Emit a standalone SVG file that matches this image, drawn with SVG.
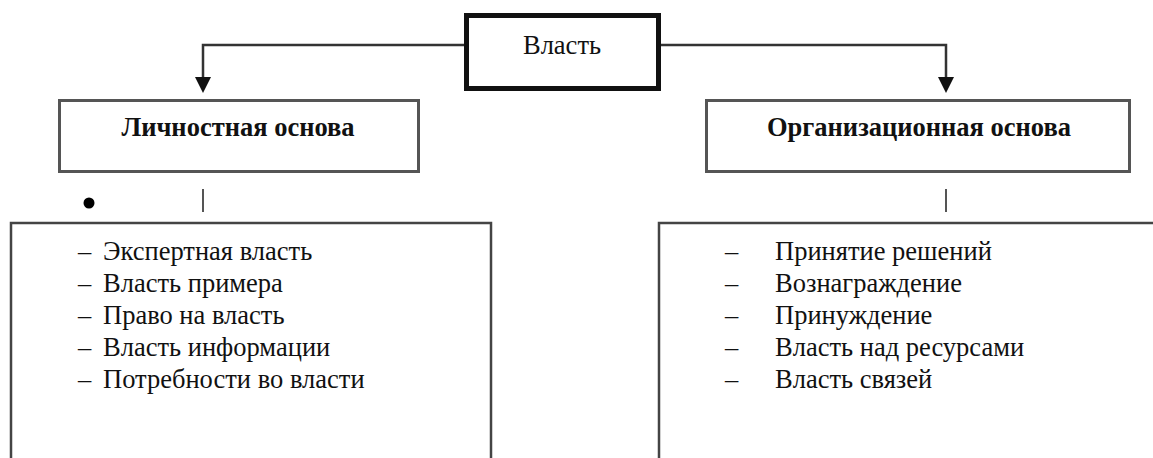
<svg xmlns="http://www.w3.org/2000/svg" width="1153" height="458" viewBox="0 0 1153 458">
<defs>
<style>
text{font-family:"Liberation Serif","Times New Roman",serif;fill:#111;font-size:26.5px}
.b{font-weight:bold}
.box{fill:#fff;stroke:#555;stroke-width:3}
.list{fill:#fff;stroke:#444;stroke-width:2.5}
.conn{fill:none;stroke:#333;stroke-width:2.5}
.head{fill:#111}
.tick{stroke:#555;stroke-width:2}
</style>
</defs>
<rect width="1153" height="458" fill="#fff"/>
<g id="connectors">
<path class="conn" d="M466,45 H203 V78"/>
<path class="head" d="M195,77 L211,77 L203,93 Z"/>
<path class="conn" d="M661,45 H946 V78"/>
<path class="head" d="M938,77 L954,77 L946,93 Z"/>
<line class="tick" x1="203" y1="189" x2="203" y2="212"/>
<line class="tick" x1="946" y1="189" x2="946" y2="212"/>
</g>
<g id="node-vlast">
<rect x="466.5" y="15.5" width="192" height="73" fill="#fff" stroke="#111" stroke-width="5"/>
<text x="562" y="54" text-anchor="middle">Власть</text>
</g>
<g id="node-lichn">
<rect class="box" x="59.5" y="100.5" width="359" height="71"/>
<text class="b" x="238" y="136" text-anchor="middle">Личностная основа</text>
</g>
<g id="node-org">
<rect class="box" x="706.5" y="100.5" width="423" height="71"/>
<text class="b" x="919" y="136" text-anchor="middle">Организационная основа</text>
</g>
<g id="bullet">
<circle cx="89" cy="203" r="5.5" fill="#000"/>
</g>
<g id="node-lichn-list">
<rect class="list" x="11" y="223" width="480" height="260"/>
<text x="78" y="260">–</text><text x="103" y="260">Экспертная власть</text>
<text x="78" y="292">–</text><text x="103" y="292">Власть примера</text>
<text x="78" y="324">–</text><text x="103" y="324">Право на власть</text>
<text x="78" y="356">–</text><text x="103" y="356">Власть информации</text>
<text x="78" y="388">–</text><text x="103" y="388">Потребности во власти</text>
</g>
<g id="node-org-list">
<rect class="list" x="659" y="223" width="520" height="260"/>
<text x="725" y="260">–</text><text x="775" y="260">Принятие решений</text>
<text x="725" y="292">–</text><text x="775" y="292">Вознаграждение</text>
<text x="725" y="324">–</text><text x="775" y="324">Принуждение</text>
<text x="725" y="356">–</text><text x="775" y="356">Власть над ресурсами</text>
<text x="725" y="388">–</text><text x="775" y="388">Власть связей</text>
</g>
</svg>
